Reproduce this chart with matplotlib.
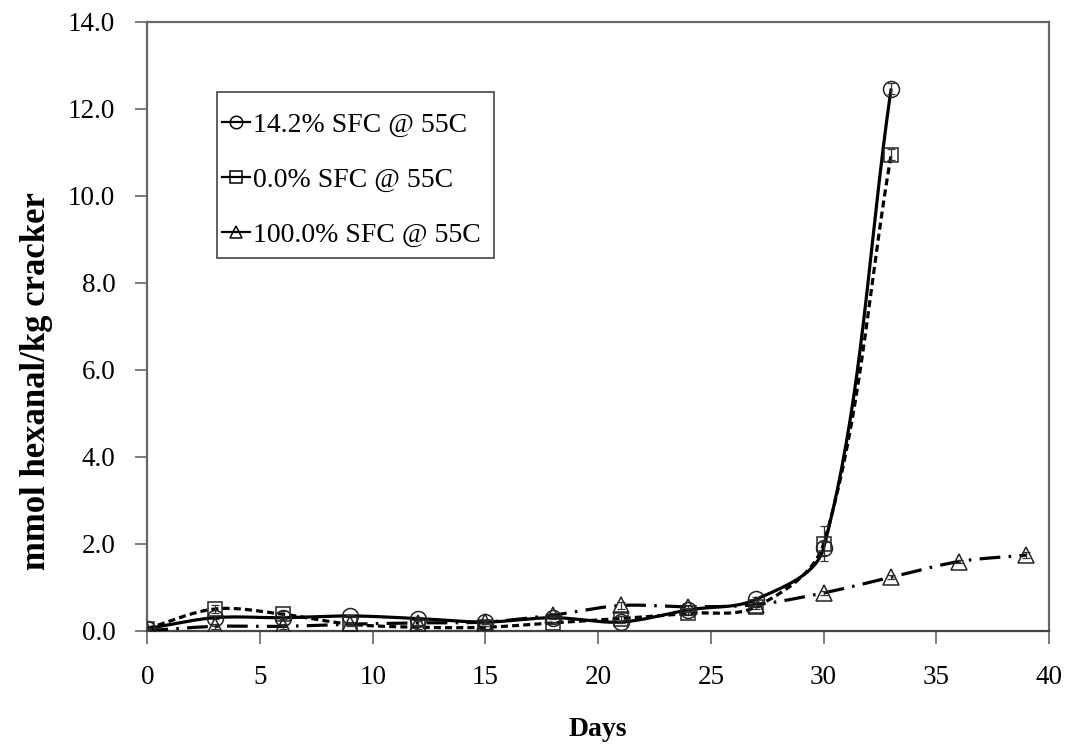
import numpy as np
import matplotlib
matplotlib.use("Agg")
import matplotlib.pyplot as plt
from matplotlib.lines import Line2D
from matplotlib.patches import Rectangle

days_a = [0, 3, 6, 9, 12, 15, 18, 21, 24, 27, 30, 33]
sfc142 = [0.05, 0.30, 0.30, 0.34, 0.28, 0.20, 0.30, 0.20, 0.48, 0.72, 1.90, 12.47]
err142 = [0.02, 0.03, 0.03, 0.03, 0.03, 0.03, 0.03, 0.03, 0.05, 0.05, 0.15, 0.12]

days_b = [0, 3, 6, 9, 12, 15, 18, 21, 24, 27, 30, 33]
sfc0 = [0.05, 0.50, 0.38, 0.15, 0.08, 0.08, 0.18, 0.28, 0.40, 0.55, 2.00, 10.95]
err0 = [0.02, 0.10, 0.08, 0.03, 0.03, 0.03, 0.03, 0.05, 0.05, 0.05, 0.40, 0.12]

days_c = [0, 3, 6, 9, 12, 15, 18, 21, 24, 27, 30, 33, 36, 39]
sfc100 = [0.0, 0.10, 0.10, 0.15, 0.18, 0.20, 0.36, 0.58, 0.55, 0.60, 0.87, 1.23, 1.59, 1.74]
err100 = [0.02, 0.05, 0.05, 0.04, 0.04, 0.04, 0.05, 0.08, 0.05, 0.05, 0.04, 0.04, 0.04, 0.06]

labels = ["14.2% SFC @ 55C", "0.0% SFC @ 55C", "100.0% SFC @ 55C"]
x_ticks = [0, 5, 10, 15, 20, 25, 30, 35, 40]
y_ticks = [0, 2, 4, 6, 8, 10, 12, 14]

plt.rcParams['font.family'] = ['Liberation Serif', 'DejaVu Serif']


def smooth(ax, x, y, n=40, f=1.0):
    # Excel-style smoothed line: cubic Bezier through points, built in screen space
    P = ax.transData.transform(np.column_stack([x, y]).astype(float))
    m = len(P)
    T = np.zeros_like(P)
    for i in range(m):
        a = P[max(i - 1, 0)]
        b = P[min(i + 1, m - 1)]
        v = b - a
        T[i] = v / np.linalg.norm(v)
    t = np.linspace(0, 1, n)
    out = []
    for i in range(m - 1):
        p1, p2 = P[i], P[i + 1]
        d = np.linalg.norm(p2 - p1) / 3.0 * f
        c1 = p1 + T[i] * d
        c2 = p2 - T[i + 1] * d
        seg = (((1 - t) ** 3)[:, None] * p1 + (3 * (1 - t) ** 2 * t)[:, None] * c1
               + (3 * (1 - t) * t ** 2)[:, None] * c2 + (t ** 3)[:, None] * p2)
        out.append(seg if i == 0 else seg[1:])
    s = ax.transData.inverted().transform(np.vstack(out))
    return s[:, 0], s[:, 1]


fig = plt.figure(figsize=(10.68, 7.45), dpi=100)
ax = fig.add_axes([0.1379, 0.1534, 0.8443, 0.8171])
ax.set_xlim(0, 40)
ax.set_ylim(0, 14)

lw = 2.3
specs = [
    (days_a, sfc142, err142, 'o', (0, ()), labels[0]),
    (days_b, sfc0, err0, 's', (0, (2.2, 1.3)), labels[1]),
    (days_c, sfc100, err100, '^', (0, (6.5, 2.6, 0.8, 2.6)), labels[2]),
]
handles = []
for xs, ys, es, mk, ls, lab in specs:
    sx, sy = smooth(ax, xs, ys)
    ax.plot(sx, sy, color='black', lw=lw, linestyle=ls, zorder=3)
    ax.errorbar(xs, ys, yerr=es, fmt='none', ecolor='#333333', elinewidth=0.9,
                capsize=3, capthick=0.9, zorder=4)
    ax.plot(xs, ys, linestyle='none', marker=mk, markersize=11.5 if mk != 's' else 10.5,
            markerfacecolor='none', markeredgecolor='#222222', markeredgewidth=1.1, zorder=5)
    handles.append(Line2D([0], [0], color='black', lw=1.6, linestyle='-', marker=mk,
                          markersize=9, markerfacecolor='none',
                          markeredgecolor='black', markeredgewidth=1.1))

ax.set_xticks(x_ticks)
ax.set_yticks(y_ticks)
ax.set_xticklabels([str(v) for v in x_ticks])
ax.set_yticklabels([f"{v:.1f}" for v in y_ticks])
ax.tick_params(axis='both', direction='out', length=9, width=1.2, colors='#666666',
               labelcolor='black', labelsize=19.5)
ax.tick_params(axis='x', pad=16)
ax.tick_params(axis='y', pad=14)
for s in ax.spines.values():
    s.set_color('#666666')
    s.set_linewidth(1.6)
ax.spines['bottom'].set_color('#444444')

ax.set_xlabel('Days', fontsize=20, fontweight='bold', labelpad=19)
ax.set_ylabel('mmol hexanal/kg cracker', fontsize=25, fontweight='bold', labelpad=10)
ax.yaxis.set_label_coords(-0.104, 0.41)

leg = ax.legend(handles, labels, loc='upper left', bbox_to_anchor=(0.080, 0.856),
                fontsize=20, frameon=False, handlelength=1.0,
                handletextpad=0.12, labelspacing=1.06, borderpad=0.1,
                borderaxespad=0)
ax.add_patch(Rectangle((0.0773, 0.6123), 0.3072, 0.2727, transform=ax.transAxes,
                       fill=False, edgecolor='#444444', linewidth=1.2, zorder=6))

fig.savefig('out.png', dpi=100)
